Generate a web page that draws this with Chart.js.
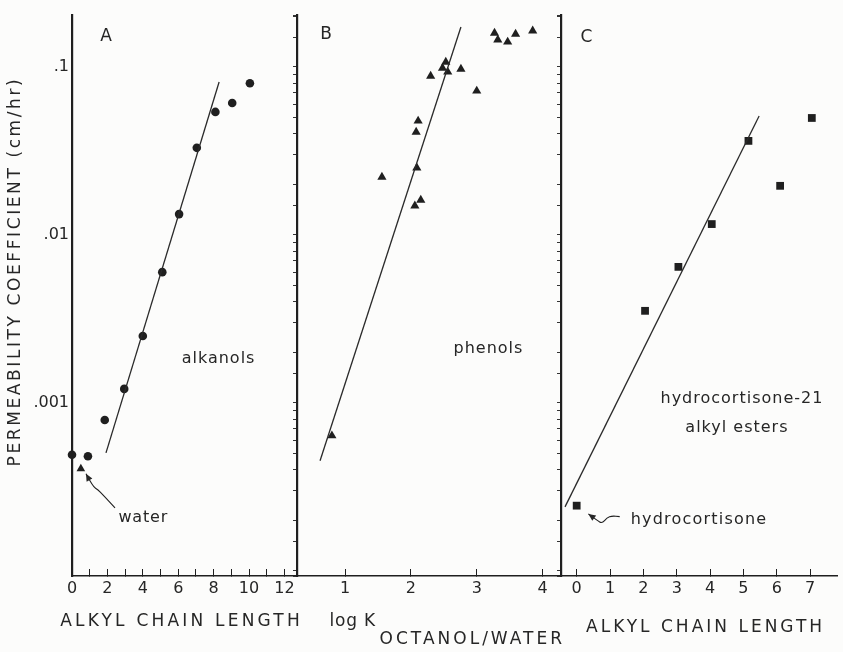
<!DOCTYPE html>
<html><head><meta charset="utf-8">
<script src="https://cdn.jsdelivr.net/npm/chart.js@4.4.1/dist/chart.umd.min.js"></script>
<style>
html,body{margin:0;padding:0;background:#fcfcfb;}
#wrap{position:relative;width:843px;height:652px;overflow:hidden;background:#fcfcfb;}
#wrap canvas{position:absolute;left:0;top:0;}
</style></head><body>
<div id="wrap">
<canvas id="cA" width="843" height="652"></canvas>
<canvas id="cB" width="843" height="652"></canvas>
<canvas id="cC" width="843" height="652"></canvas>
</div>
<script>
// ---------- data ----------
// Panel A: alkanols
const alkanolChain = [0, 0.9, 1.85, 2.95, 4.0, 5.1, 6.05, 7.05, 8.1, 9.05, 10.05];
const alkanolPerm  = [0.00049, 0.00048, 0.00079, 0.00121, 0.0025, 0.0060, 0.0133, 0.033, 0.054, 0.061, 0.080];
const waterChain = [0.5];
const waterPerm  = [0.000405];
const alkanolFitX = [1.92, 8.31];
const alkanolFitY = [0.000503, 0.0814];

// Panel B: phenols
const phenolLogK = [0.80, 1.56, 2.09, 2.08, 2.11, 2.15, 2.06, 2.30, 2.48, 2.53, 2.56, 2.76, 3.00, 3.27, 3.32, 3.47, 3.59, 3.85];
const phenolPerm = [0.000637, 0.0221, 0.0251, 0.0410, 0.0477, 0.0161, 0.0149, 0.0884, 0.0986, 0.107, 0.0934, 0.0973, 0.0720, 0.159, 0.145, 0.141, 0.157, 0.164];
const phenolFitX = [0.62, 2.76];
const phenolFitY = [0.000452, 0.173];

// Panel C: hydrocortisone-21 alkyl esters
const esterChain = [0, 2.05, 3.05, 4.05, 5.15, 6.1, 7.05];
const esterPerm  = [0.000244, 0.00353, 0.00645, 0.0116, 0.0363, 0.0196, 0.0497];
const esterFitX = [-0.35, 5.47];
const esterFitY = [0.00024, 0.0511];

// tick labels and ranges
const yTickLabels = {'-1': '.1', '-2': '.01', '-3': '.001'};
const yRange = [9.3e-5, 0.204];
const xRangeA = [0, 12.71];
const xRangeB = [0.27, 4.28];
const xRangeC = [-0.47, 7.82];

// ---------- styling ----------
const INK = '#1f1f1f';
const TXT = '#262626';
const FAMILY = '"DejaVu Sans", sans-serif';

function pts(xs, ys) { return xs.map((x, i) => ({x: x, y: ys[i]})); }
function markers(xs, ys, style, r) {
  return {data: pts(xs, ys), pointStyle: style, pointRadius: r, pointBackgroundColor: INK,
          pointBorderColor: INK, pointBorderWidth: 0, showLine: false, clip: false};
}
function fitLine(xs, ys) {
  return {data: pts(xs, ys), showLine: true, pointRadius: 0, borderColor: '#2a2a2a',
          borderWidth: 1.3, fill: false, tension: 0};
}

const annotPlugin = {
  id: 'annot',
  afterDraw(chart, args, opts) {
    const ctx = chart.ctx, xs = chart.scales.x, ys = chart.scales.y, ca = chart.chartArea;
    ctx.save();
    ctx.fillStyle = TXT; ctx.strokeStyle = INK;
    (opts.texts || []).forEach(t => {
      const ls = t.ls || 0;
      ctx.font = (t.size || 16) + 'px ' + FAMILY;
      ctx.letterSpacing = ls + 'px';
      ctx.textAlign = 'center'; ctx.textBaseline = 'middle';
      const px = t.leftOffset != null ? ca.left + t.leftOffset : xs.getPixelForValue(t.x);
      const py = t.below != null ? ca.bottom + t.below : ys.getPixelForValue(t.y);
      ctx.save();
      ctx.translate(px, py);
      if (t.rot) ctx.rotate(t.rot * Math.PI / 180);
      ctx.fillText(t.text, ls / 2, 0);
      ctx.restore();
    });
    ctx.letterSpacing = '0px';
    (opts.arrows || []).forEach(a => {
      const p = a.x.map((x, i) => [xs.getPixelForValue(x), ys.getPixelForValue(a.y[i])]);
      ctx.lineWidth = 1.1;
      ctx.beginPath();
      ctx.moveTo(p[0][0], p[0][1]);
      for (let i = 1; i < p.length - 1; i++) {
        const mx = (p[i][0] + p[i + 1][0]) / 2, my = (p[i][1] + p[i + 1][1]) / 2;
        ctx.quadraticCurveTo(p[i][0], p[i][1], mx, my);
      }
      ctx.lineTo(p[p.length - 1][0], p[p.length - 1][1]);
      ctx.stroke();
      const [x0, y0] = p[0], [x1, y1] = p[1];
      const ang = Math.atan2(y0 - y1, x0 - x1), L = 8, W = 0.42;
      ctx.beginPath();
      ctx.moveTo(x0, y0);
      ctx.lineTo(x0 - L * Math.cos(ang - W), y0 - L * Math.sin(ang - W));
      ctx.lineTo(x0 - L * Math.cos(ang + W), y0 - L * Math.sin(ang + W));
      ctx.closePath(); ctx.fill();
    });
    ctx.restore();
  }
};

function mkX(range, evenOnly) {
  return {
    type: 'linear', min: range[0], max: range[1], position: 'bottom',
    border: {display: true, color: INK, width: 1.6},
    grid: {display: true, drawOnChartArea: false, drawTicks: true, tickLength: -7, color: INK, lineWidth: 1},
    ticks: {stepSize: 1, includeBounds: false, autoSkip: false, maxRotation: 0, minRotation: 0, padding: 10,
            color: TXT, font: {family: FAMILY, size: 16},
            callback: v => {
              if (Math.abs(v - Math.round(v)) > 1e-6) return '';
              return evenOnly ? (Math.round(v) % 2 === 0 ? String(v) : '') : String(v);
            }},
    afterBuildTicks: s => {
      s.ticks = s.ticks.filter(t => t.value >= s.min - 1e-9 && t.value <= s.max + 1e-9 &&
                                    Math.abs(t.value - Math.round(t.value)) < 1e-6);
    },
    afterFit: s => { s.height = 76; }
  };
}
function mkY(showLabels) {
  return {
    type: 'logarithmic', min: yRange[0], max: yRange[1], position: 'left',
    border: {display: true, color: INK, width: 2.2},
    grid: {display: true, drawOnChartArea: false, drawTicks: !showLabels, tickLength: 4, color: '#333', lineWidth: 1},
    ticks: {display: showLabels, autoSkip: false, padding: 3, color: TXT, font: {family: FAMILY, size: 16},
            callback: v => {
              const e = Math.log10(v), r = Math.round(e);
              return (Math.abs(e - r) < 1e-6 && yTickLabels[r]) ? yTickLabels[r] : '';
            }},
    afterFit: s => { s.width = showLabels ? 72 : 8; }
  };
}
function panel(id, padLeft, padRight, xRange, evenOnly, showY, datasets, texts, arrows) {
  return new Chart(document.getElementById(id), {
    type: 'scatter',
    data: {datasets: datasets},
    options: {
      responsive: false, animation: false, events: [],
      layout: {padding: {left: padLeft, right: padRight, top: 15, bottom: 0}},
      plugins: {legend: {display: false}, tooltip: {enabled: false},
                annot: {texts: texts, arrows: arrows}},
      scales: {x: mkX(xRange, evenOnly), y: mkY(showY)}
    },
    plugins: [annotPlugin]
  });
}

// Panel A
panel('cA', 0, 546, xRangeA, true, true,
  [fitLine(alkanolFitX, alkanolFitY),
   markers(alkanolChain, alkanolPerm, 'circle', 4.3),
   markers(waterChain, waterPerm, 'triangle', 5)],
  [{text: 'A', x: 1.92, y: 0.151, size: 17},
   {text: 'alkanols', x: 8.25, y: 0.00183, size: 16, ls: 1},
   {text: 'water', x: 4.0, y: 0.000206, size: 16, ls: 0.8},
   {text: 'ALKYL CHAIN LENGTH', x: 6.1, below: 46, size: 17, ls: 3.2},
   {text: 'PERMEABILITY COEFFICIENT (cm/hr)', leftOffset: -56, y: 0.00594, rot: -90, size: 17, ls: 2.6}],
  [{x: [0.79, 1.19, 1.47, 1.75, 2.43], y: [0.000378, 0.000316, 0.000303, 0.000283, 0.000237]}]);

// Panel B
panel('cB', 289, 282, xRangeB, false, false,
  [fitLine(phenolFitX, phenolFitY),
   markers(phenolLogK, phenolPerm, 'triangle', 5.3)],
  [{text: 'B', x: 0.71, y: 0.155, size: 17},
   {text: 'phenols', x: 3.17, y: 0.00209, size: 16, ls: 1},
   {text: 'log K', x: 1.11, below: 46, size: 17, ls: 0.8},
   {text: 'OCTANOL/WATER', x: 2.91, below: 64, size: 17, ls: 3}],
  []);

// Panel C
panel('cC', 553, 0, xRangeC, false, false,
  [fitLine(esterFitX, esterFitY),
   markers(esterChain, esterPerm, 'rect', 5.5)],
  [{text: 'C', x: 0.29, y: 0.149, size: 17},
   {text: 'hydrocortisone-21', x: 4.94, y: 0.001057, size: 16, ls: 1},
   {text: 'alkyl esters', x: 4.79, y: 0.00071, size: 16, ls: 1},
   {text: 'hydrocortisone', x: 3.65, y: 0.000201, size: 16, ls: 1.2},
   {text: 'ALKYL CHAIN LENGTH', x: 3.82, below: 52, size: 17, ls: 3}],
  [{x: [0.35, 0.62, 0.76, 0.91, 1.06, 1.29], y: [0.000218, 0.000199, 0.000191, 0.000207, 0.000212, 0.000210]}]);
</script>
</body></html>
